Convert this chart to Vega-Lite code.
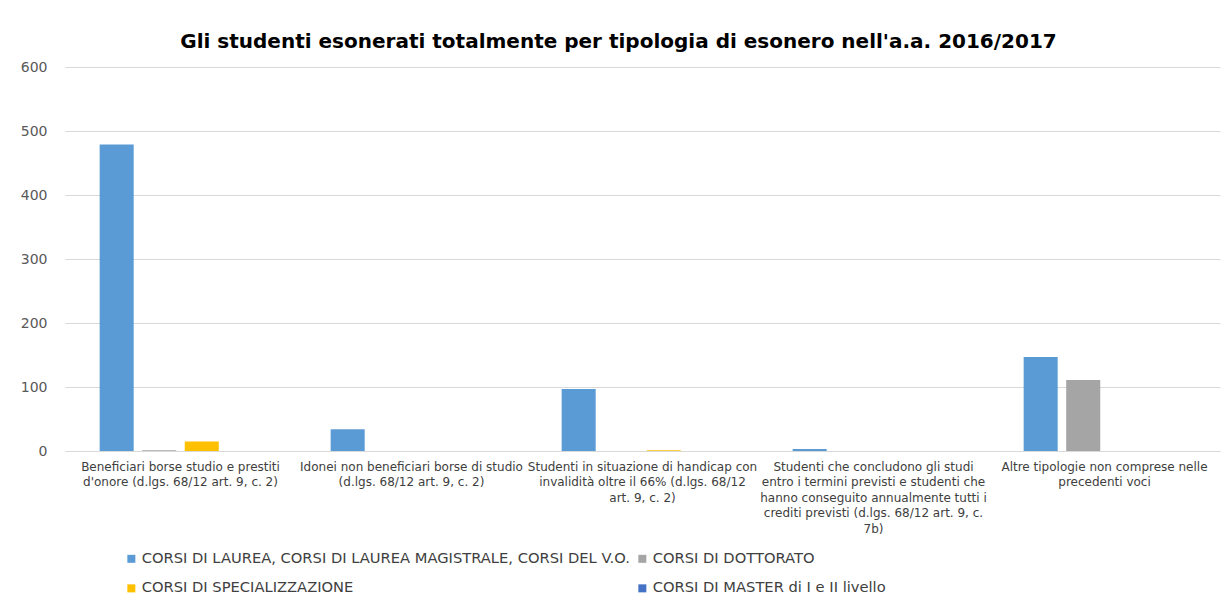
{
  "$schema": "https://vega.github.io/schema/vega-lite/v6.json",
  "autosize": "none",
  "width": 1155,
  "height": 384,
  "padding": {"left": 65, "top": 67, "right": 4, "bottom": 155},
  "background": "white",
  "title": {
    "text": "Gli studenti esonerati totalmente per tipologia di esonero nell'a.a. 2016/2017",
    "font": "DejaVu Sans",
    "fontSize": 20,
    "fontWeight": "bold",
    "color": "#000000",
    "anchor": "middle",
    "dx": -24,
    "offset": 8
  },
  "data": {
    "values": [
      {"cat": "Beneficiari borse studio e prestiti|d'onore (d.lgs. 68/12 art. 9, c. 2)", "serie": "CORSI DI LAUREA, CORSI DI LAUREA MAGISTRALE, CORSI DEL V.O.", "v": 479},
      {"cat": "Beneficiari borse studio e prestiti|d'onore (d.lgs. 68/12 art. 9, c. 2)", "serie": "CORSI DI DOTTORATO", "v": 1},
      {"cat": "Beneficiari borse studio e prestiti|d'onore (d.lgs. 68/12 art. 9, c. 2)", "serie": "CORSI DI SPECIALIZZAZIONE", "v": 15},
      {"cat": "Beneficiari borse studio e prestiti|d'onore (d.lgs. 68/12 art. 9, c. 2)", "serie": "CORSI DI MASTER di I e II livello", "v": 0},
      {"cat": "Idonei non beneficiari borse di studio|(d.lgs. 68/12 art. 9, c. 2)", "serie": "CORSI DI LAUREA, CORSI DI LAUREA MAGISTRALE, CORSI DEL V.O.", "v": 34},
      {"cat": "Idonei non beneficiari borse di studio|(d.lgs. 68/12 art. 9, c. 2)", "serie": "CORSI DI DOTTORATO", "v": 0},
      {"cat": "Idonei non beneficiari borse di studio|(d.lgs. 68/12 art. 9, c. 2)", "serie": "CORSI DI SPECIALIZZAZIONE", "v": 0},
      {"cat": "Idonei non beneficiari borse di studio|(d.lgs. 68/12 art. 9, c. 2)", "serie": "CORSI DI MASTER di I e II livello", "v": 0},
      {"cat": "Studenti in situazione di handicap con|invalidità oltre il 66% (d.lgs. 68/12|art. 9, c. 2)", "serie": "CORSI DI LAUREA, CORSI DI LAUREA MAGISTRALE, CORSI DEL V.O.", "v": 97},
      {"cat": "Studenti in situazione di handicap con|invalidità oltre il 66% (d.lgs. 68/12|art. 9, c. 2)", "serie": "CORSI DI DOTTORATO", "v": 0},
      {"cat": "Studenti in situazione di handicap con|invalidità oltre il 66% (d.lgs. 68/12|art. 9, c. 2)", "serie": "CORSI DI SPECIALIZZAZIONE", "v": 1},
      {"cat": "Studenti in situazione di handicap con|invalidità oltre il 66% (d.lgs. 68/12|art. 9, c. 2)", "serie": "CORSI DI MASTER di I e II livello", "v": 0},
      {"cat": "Studenti che concludono gli studi|entro i termini previsti e studenti che|hanno conseguito annualmente tutti i|crediti previsti  (d.lgs. 68/12 art. 9, c.|7b)", "serie": "CORSI DI LAUREA, CORSI DI LAUREA MAGISTRALE, CORSI DEL V.O.", "v": 3},
      {"cat": "Studenti che concludono gli studi|entro i termini previsti e studenti che|hanno conseguito annualmente tutti i|crediti previsti  (d.lgs. 68/12 art. 9, c.|7b)", "serie": "CORSI DI DOTTORATO", "v": 0},
      {"cat": "Studenti che concludono gli studi|entro i termini previsti e studenti che|hanno conseguito annualmente tutti i|crediti previsti  (d.lgs. 68/12 art. 9, c.|7b)", "serie": "CORSI DI SPECIALIZZAZIONE", "v": 0},
      {"cat": "Studenti che concludono gli studi|entro i termini previsti e studenti che|hanno conseguito annualmente tutti i|crediti previsti  (d.lgs. 68/12 art. 9, c.|7b)", "serie": "CORSI DI MASTER di I e II livello", "v": 0},
      {"cat": "Altre tipologie non comprese nelle|precedenti voci", "serie": "CORSI DI LAUREA, CORSI DI LAUREA MAGISTRALE, CORSI DEL V.O.", "v": 147},
      {"cat": "Altre tipologie non comprese nelle|precedenti voci", "serie": "CORSI DI DOTTORATO", "v": 111},
      {"cat": "Altre tipologie non comprese nelle|precedenti voci", "serie": "CORSI DI SPECIALIZZAZIONE", "v": 0},
      {"cat": "Altre tipologie non comprese nelle|precedenti voci", "serie": "CORSI DI MASTER di I e II livello", "v": 0}
    ]
  },
  "mark": {"type": "bar"},
  "encoding": {
    "x": {
      "field": "cat",
      "type": "nominal",
      "sort": null,
      "title": null,
      "scale": {"paddingInner": 0.3, "paddingOuter": 0.15},
      "axis": {
        "labelExpr": "split(datum.value, '|')",
        "labelAngle": 0,
        "labelFont": "DejaVu Sans",
        "labelFontSize": 12,
        "labelColor": "#404040",
        "labelLineHeight": 15.5,
        "labelPadding": 10,
        "labelLimit": 300,
        "ticks": false,
        "domainColor": "#D9D9D9",
        "domainWidth": 1
      }
    },
    "xOffset": {
      "field": "serie",
      "type": "nominal",
      "sort": ["CORSI DI LAUREA, CORSI DI LAUREA MAGISTRALE, CORSI DEL V.O.", "CORSI DI DOTTORATO", "CORSI DI SPECIALIZZAZIONE", "CORSI DI MASTER di I e II livello"],
      "scale": {"paddingInner": 0.2}
    },
    "y": {
      "field": "v",
      "type": "quantitative",
      "title": null,
      "scale": {"domain": [0, 600], "nice": false},
      "axis": {
        "values": [0, 100, 200, 300, 400, 500, 600],
        "labelFont": "DejaVu Sans",
        "labelFontSize": 14,
        "labelColor": "#595959",
        "labelPadding": 18,
        "ticks": false,
        "domain": false,
        "gridColor": "#D9D9D9",
        "gridWidth": 1
      }
    },
    "color": {
      "field": "serie",
      "type": "nominal",
      "sort": ["CORSI DI LAUREA, CORSI DI LAUREA MAGISTRALE, CORSI DEL V.O.", "CORSI DI DOTTORATO", "CORSI DI SPECIALIZZAZIONE", "CORSI DI MASTER di I e II livello"],
      "scale": {
        "domain": ["CORSI DI LAUREA, CORSI DI LAUREA MAGISTRALE, CORSI DEL V.O.", "CORSI DI DOTTORATO", "CORSI DI SPECIALIZZAZIONE", "CORSI DI MASTER di I e II livello"],
        "range": ["#5B9BD5", "#A5A5A5", "#FFC000", "#4472C4"]
      },
      "legend": {
        "title": null,
        "orient": "none",
        "legendX": 59,
        "legendY": 484,
        "columns": 2,
        "direction": "horizontal",
        "symbolType": "square",
        "symbolSize": 64,
        "symbolStrokeWidth": 0,
        "labelFont": "DejaVu Sans",
        "labelFontSize": 14.7,
        "labelColor": "#404040",
        "labelOffset": 3,
        "labelLimit": 700,
        "rowPadding": 14,
        "columnPadding": 5
      }
    }
  },
  "config": {
    "view": {"stroke": null}
  }
}
